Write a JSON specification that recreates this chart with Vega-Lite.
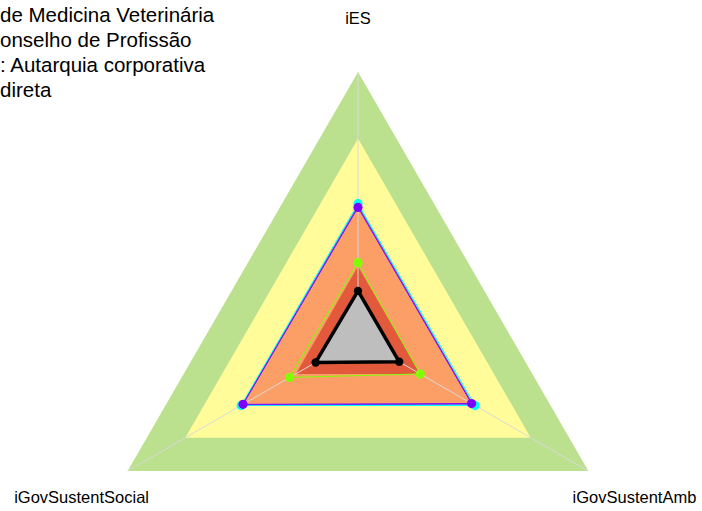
{
  "$schema": "https://vega.github.io/schema/vega-lite/v6.json",
  "width": 702,
  "height": 511,
  "autosize": "none",
  "padding": 0,
  "background": "white",
  "config": {"view": {"stroke": null}},
  "title": {
    "text": ["\u00a0\u00a0de Medicina Veterinária", "onselho de Profissão", "\u00a0: Autarquia corporativa", "\u00a0direta"],
    "anchor": "start",
    "frame": "group",
    "orient": "top",
    "baseline": "top",
    "offset": 0,
    "dy": 101,
    "dx": 0,
    "font": "Liberation Sans",
    "fontSize": 20.5,
    "fontWeight": "normal",
    "lineHeight": 25,
    "color": "black"
  },
  "datasets": {
    "axes": [
      {"axis": "iES", "k": 0},
      {"axis": "iGovSustentSocial", "k": 1},
      {"axis": "iGovSustentAmb", "k": 2}
    ],
    "bands": [
      {"band": "a", "k": 0, "value": 1.0}, {"band": "a", "k": 1, "value": 1.0}, {"band": "a", "k": 2, "value": 1.0},
      {"band": "b", "k": 0, "value": 0.75}, {"band": "b", "k": 1, "value": 0.75}, {"band": "b", "k": 2, "value": 0.75},
      {"band": "c", "k": 0, "value": 0.5}, {"band": "c", "k": 1, "value": 0.5}, {"band": "c", "k": 2, "value": 0.5},
      {"band": "d", "k": 0, "value": 0.27}, {"band": "d", "k": 1, "value": 0.27}, {"band": "d", "k": 2, "value": 0.27}
    ],
    "series": [
      {"serie": "s1", "k": 0, "value": 0.505}, {"serie": "s1", "k": 1, "value": 0.507}, {"serie": "s1", "k": 2, "value": 0.508},
      {"serie": "s2", "k": 0, "value": 0.497}, {"serie": "s2", "k": 1, "value": 0.502}, {"serie": "s2", "k": 2, "value": 0.498},
      {"serie": "s3", "k": 0, "value": 0.491}, {"serie": "s3", "k": 1, "value": 0.499}, {"serie": "s3", "k": 2, "value": 0.493},
      {"serie": "s4", "k": 0, "value": 0.283}, {"serie": "s4", "k": 1, "value": 0.297}, {"serie": "s4", "k": 2, "value": 0.27},
      {"serie": "s5", "k": 0, "value": 0.177}, {"serie": "s5", "k": 1, "value": 0.184}, {"serie": "s5", "k": 2, "value": 0.179}
    ]
  },
  "encoding": {
    "x": {"field": "x", "type": "quantitative", "axis": null, "scale": {"domain": [-1.3459, 1.2932], "nice": false, "zero": false}},
    "y": {"field": "y", "type": "quantitative", "axis": null, "scale": {"domain": [-0.6504, 1.2707], "nice": false, "zero": false}}
  },
  "layer": [
    {
      "data": {"name": "bands"},
      "transform": [
        {"calculate": "datum.value * cos(PI/2 + datum.k*2*PI/3)", "as": "x"},
        {"calculate": "datum.value * sin(PI/2 + datum.k*2*PI/3)", "as": "y"}
      ],
      "mark": {"type": "line", "interpolate": "linear-closed", "strokeWidth": 0},
      "encoding": {
        "fill": {"field": "band", "type": "nominal", "legend": null, "scale": {"domain": ["a", "b", "c", "d"], "range": ["#BBE08E", "#FFFC99", "#FC9F66", "#E25A3B"]}},
        "stroke": {"value": null},
        "detail": {"field": "band"},
        "order": {"field": "k", "type": "quantitative"}
      }
    },
    {
      "data": {"name": "axes"},
      "transform": [
        {"calculate": "cos(PI/2 + datum.k*2*PI/3)", "as": "x"},
        {"calculate": "sin(PI/2 + datum.k*2*PI/3)", "as": "y"}
      ],
      "mark": {"type": "rule", "color": "#D9D9D9", "strokeWidth": 1},
      "encoding": {
        "x2": {"datum": 0},
        "y2": {"datum": 0}
      }
    },
    {
      "data": {"name": "series"},
      "transform": [
        {"filter": "datum.serie != 's5'"},
        {"calculate": "datum.value * cos(PI/2 + datum.k*2*PI/3)", "as": "x"},
        {"calculate": "datum.value * sin(PI/2 + datum.k*2*PI/3)", "as": "y"}
      ],
      "mark": {"type": "line", "interpolate": "linear-closed", "strokeWidth": 1},
      "encoding": {
        "stroke": {"field": "serie", "type": "nominal", "legend": null, "scale": {"domain": ["s1", "s2", "s3", "s4"], "range": ["#00FFFF", "#3A5BFF", "#8000FF", "#80FF00"]}},
        "detail": {"field": "serie"},
        "order": {"field": "k", "type": "quantitative"}
      }
    },
    {
      "data": {"name": "series"},
      "transform": [
        {"filter": "datum.serie != 's5' && datum.serie != 's2'"},
        {"calculate": "datum.value * cos(PI/2 + datum.k*2*PI/3)", "as": "x"},
        {"calculate": "datum.value * sin(PI/2 + datum.k*2*PI/3)", "as": "y"}
      ],
      "mark": {"type": "point", "filled": true, "opacity": 1, "size": 85},
      "encoding": {
        "color": {"field": "serie", "type": "nominal", "legend": null, "scale": {"domain": ["s1", "s3", "s4"], "range": ["#00FFFF", "#8000FF", "#80FF00"]}}
      }
    },
    {
      "data": {"name": "series"},
      "transform": [
        {"filter": "datum.serie == 's5'"},
        {"calculate": "datum.value * cos(PI/2 + datum.k*2*PI/3)", "as": "x"},
        {"calculate": "datum.value * sin(PI/2 + datum.k*2*PI/3)", "as": "y"}
      ],
      "mark": {"type": "line", "interpolate": "linear-closed", "strokeWidth": 3.5, "stroke": "black", "fill": "#BEBEBE", "strokeJoin": "round"},
      "encoding": {
        "order": {"field": "k", "type": "quantitative"}
      }
    },
    {
      "data": {"name": "series"},
      "transform": [
        {"filter": "datum.serie == 's5'"},
        {"calculate": "datum.value * cos(PI/2 + datum.k*2*PI/3)", "as": "x"},
        {"calculate": "datum.value * sin(PI/2 + datum.k*2*PI/3)", "as": "y"}
      ],
      "mark": {"type": "point", "filled": true, "opacity": 1, "size": 70, "color": "black"}
    },
    {
      "data": {"name": "axes"},
      "transform": [
        {"calculate": "1.2 * cos(PI/2 + datum.k*2*PI/3)", "as": "x"},
        {"calculate": "1.2 * sin(PI/2 + datum.k*2*PI/3)", "as": "y"}
      ],
      "mark": {"type": "text", "font": "Liberation Sans", "fontSize": 16.5, "color": "black", "align": "center", "baseline": "middle"},
      "encoding": {"text": {"field": "axis"}}
    }
  ]
}
